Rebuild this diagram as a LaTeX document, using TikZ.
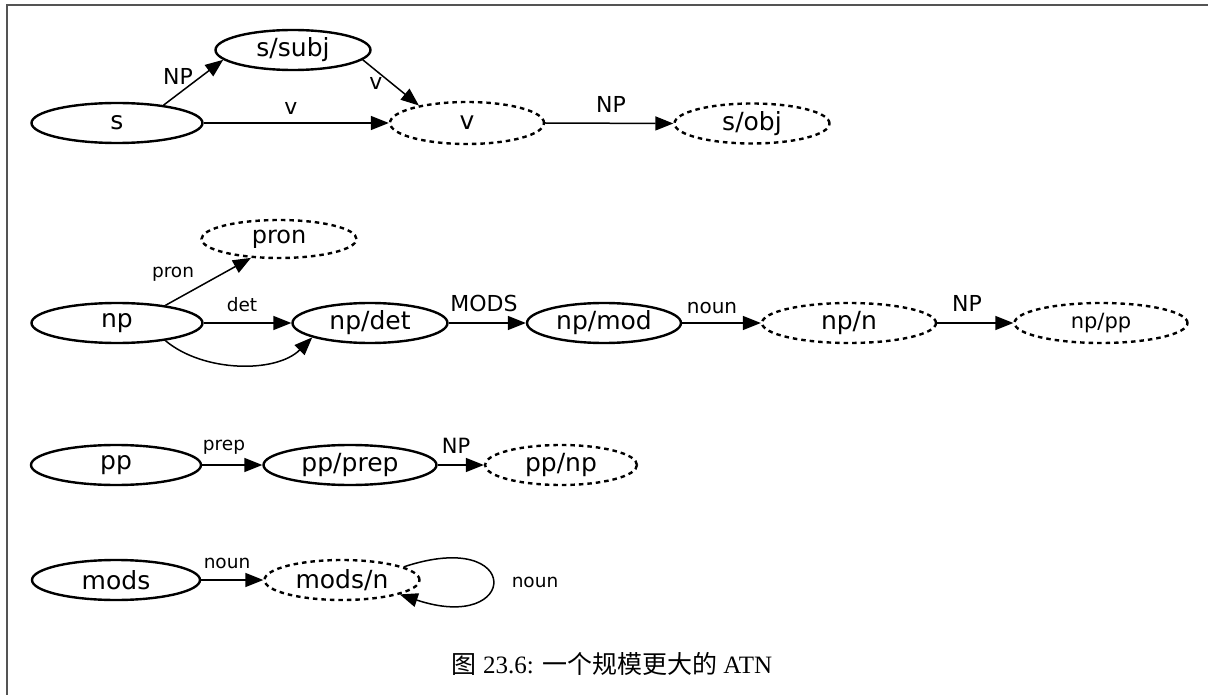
\documentclass[tikz,border=0pt]{standalone}
\usepackage{fontspec}
\setmainfont{DejaVu Sans}
\newfontfamily\cjk{Noto Sans CJK SC}
\newfontfamily\capserif{Liberation Serif}
\usetikzlibrary{shapes.geometric,arrows.meta}
\tikzset{
  st/.style={ellipse, draw, line width=2.4pt, inner sep=0pt, minimum height=40pt,
    font=\fontsize{25}{29}\selectfont},
  fin/.style={st, dash pattern=on 4.5pt off 4pt},
  edg/.style={line width=1.5pt, -{Triangle[length=18pt,width=14pt]}},
  biglab/.style={font=\fontsize{22}{26}\selectfont, inner sep=0pt, anchor=base},
  smalllab/.style={font=\fontsize{18.5}{22}\selectfont, inner sep=0pt, anchor=base},
  framel/.style={line width=2pt, draw=black!67},
}
\begin{document}
\begin{tikzpicture}[x=1pt,y=-1pt]
\useasboundingbox (0,0) rectangle (1208,695);
\coordinate (fb) at (6.5,695);
\coordinate (fc) at (6.5,5.5);
\coordinate (fr) at (1208,5.5);
\draw[framel] (fb) -- (fc) -- (fr);

% row 1
\node[st, minimum width=171pt] (s) at (117,123) {s};
\node[st, minimum width=155pt] (subj) at (293,50) {s/subj};
\node[fin, minimum width=154pt, minimum height=42pt] (v) at (467,123) {v};
\node[fin, minimum width=155pt] (sobj) at (752,123.5) {s/obj};

\draw[edg] (s.21) -- (subj.-172);
\node[biglab] (lNP1) at (178,85) {NP};
\draw[edg] (subj.-8) -- (v.160);
\node[biglab] (lv1) at (376,90) {v};
\draw[edg] (s.east) -- (v.west);
\node[biglab] (lv2) at (291,115) {v};
\draw[edg] (v.east) -- (sobj.west);
\node[biglab] (lNP2) at (611,113) {NP};

% row 2
\node[fin, minimum width=155pt, minimum height=38pt, font=\fontsize{24}{28}\selectfont] (pron) at (279,239) {pron};
\node[st, minimum width=171pt] (np) at (117,323) {np};
\node[st, minimum width=155pt] (npdet) at (370,323) {np/det};
\node[st, minimum width=154pt] (npmod) at (604,323) {np/mod};
\node[fin, minimum width=174pt] (npn) at (849,323) {np/n};
\node[fin, minimum width=173pt, font=\fontsize{21}{25}\selectfont] (nppp) at (1101,323) {np/pp};

\draw[edg] (np.20) -- (pron.-146);
\node[smalllab] (lpron) at (173,278) {pron};
\draw[edg] (np.east) -- (npdet.west);
\node[smalllab] (ldet) at (242,312) {det};
\draw[edg] (np.-20) .. controls +(38,32) and +(-36,36) .. (npdet.-166);
\draw[edg] (npdet.east) -- (npmod.west);
\node[biglab] (lMODS) at (484,312) {MODS};
\draw[edg] (npmod.east) -- (npn.west);
\node[smalllab, font=\fontsize{20}{24}\selectfont] (lnoun1) at (712,313) {noun};
\draw[edg] (npn.east) -- (nppp.west);
\node[biglab] (lNP3) at (967,312) {NP};

% row 3
\node[st, minimum width=170pt] (pp) at (116,465) {pp};
\node[st, minimum width=173pt] (ppprep) at (350,465) {pp/prep};
\node[fin, minimum width=152pt] (ppnp) at (561,465) {pp/np};
\draw[edg] (pp.east) -- (ppprep.west);
\node[smalllab] (lprep) at (224,450) {prep};
\draw[edg] (ppprep.east) -- (ppnp.west);
\node[biglab, font=\fontsize{21}{25}\selectfont] (lNP4) at (456,453) {NP};

% row 4
\node[st, minimum width=168pt] (mods) at (116,580) {mods};
\node[fin, minimum width=155pt] (modsn) at (342,580) {mods/n};
\draw[edg] (mods.east) -- (modsn.west);
\node[smalllab] (lnoun2) at (227,568) {noun};
\draw[edg] (modsn.12) .. controls +(120,-40) and +(120,40) .. (modsn.-14);
\node[smalllab] (lnoun3) at (535,587) {noun};

% caption
\node[inner sep=0pt, font=\fontsize{25}{29}\selectfont] (cap) at (612,664)
  {{\cjk 图}\capserif{} 23.6: {\cjk 一个规模更大的} ATN};
\end{tikzpicture}
\end{document}
